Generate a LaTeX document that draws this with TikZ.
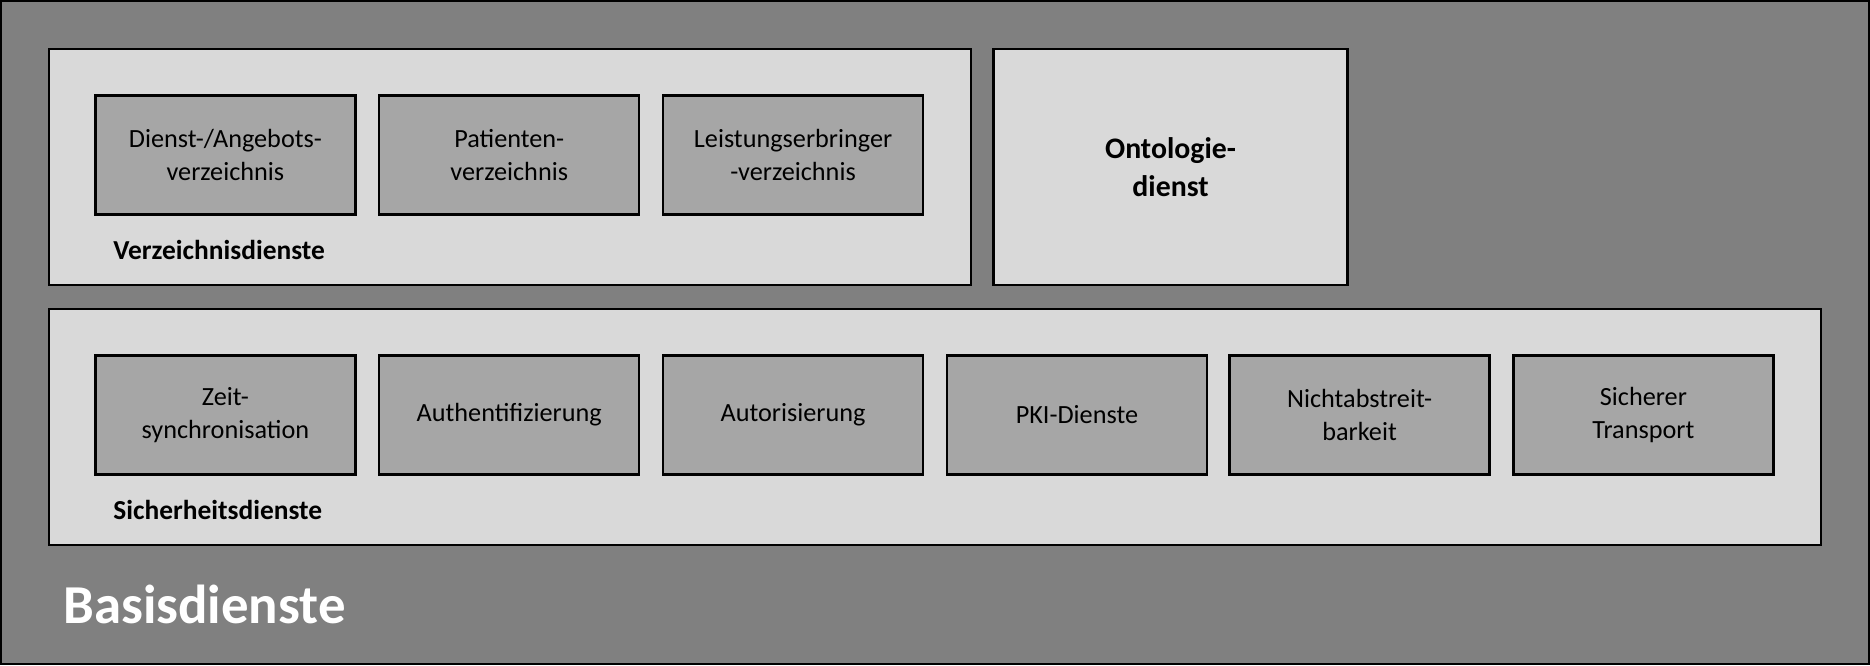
\documentclass[tikz,border=0pt]{standalone}
\usepackage{fontspec}
\setmainfont{Carlito}
\definecolor{dg}{HTML}{808080}
\definecolor{lg}{HTML}{D9D9D9}
\definecolor{mg}{HTML}{A6A6A6}
\begin{document}
\begin{tikzpicture}[x=0.5pt,y=-0.5pt,
  grp/.style={draw=black,line width=1pt,fill=lg},
  svc/.style={draw=black,line width=1pt,fill=mg,minimum width=109pt,minimum height=50pt,inner sep=0pt,align=center,font=\fontsize{11}{13.5}\selectfont},
  lbl/.style={anchor=west,font=\fontsize{11.5}{14}\selectfont\bfseries}]
\useasboundingbox (0,0) rectangle (1568,558);
\draw[fill=dg,line width=1pt] (1,1) rectangle (1567,557);
\draw[grp] (41,41) rectangle (814,239);
\node[grp,minimum width=148.5pt,minimum height=99pt,align=center,font=\fontsize{12.5}{16}\selectfont\bfseries] (onto) at (981.5,140) {Ontologie-\\dienst};
\draw[grp] (41,259) rectangle (1527,457);
\node[svc] (d1) at (189,130) {Dienst-/Angebots-\\verzeichnis};
\node[svc] (d2) at (427,130) {Patienten-\\verzeichnis};
\node[svc] (d3) at (665,130) {Leistungserbringer\\-verzeichnis};
\node[lbl] (vz) at (88,210) {Verzeichnisdienste};
\node[svc] (s1) at (189,348) {Zeit-\\synchronisation};
\node[svc] (s2) at (427,348) {Authentifizierung};
\node[svc] (s3) at (665,348) {Autorisierung};
\node[svc] (s4) at (903,348) {PKI-Dienste};
\node[svc] (s5) at (1140,348) {Nichtabstreit-\\barkeit};
\node[svc] (s6) at (1378,348) {Sicherer\\Transport};
\node[lbl] (sd) at (88,428) {Sicherheitsdienste};
\node[anchor=west,text=white,font=\fontsize{23}{28}\selectfont\bfseries] (bd) at (46,507) {Basisdienste};
\end{tikzpicture}
\end{document}
